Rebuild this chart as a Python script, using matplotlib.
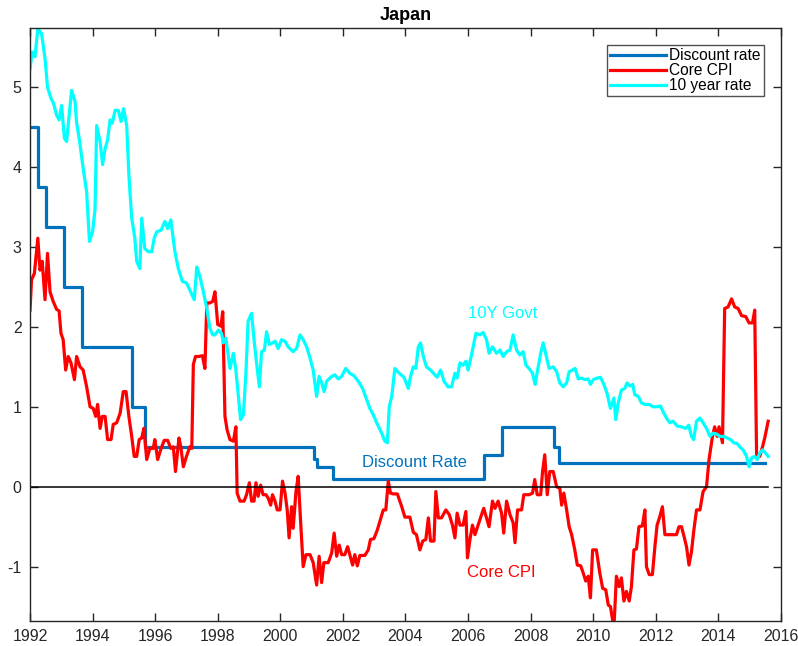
import numpy as np
import matplotlib
matplotlib.use("Agg")
import matplotlib.pyplot as plt

plt.rcParams['font.family'] = ['Liberation Sans', 'DejaVu Sans']
plt.rcParams['axes.unicode_minus'] = False

# discount rate: dates of each level change and the level that starts there
disc_dates = [1992.00, 1992.25, 1992.50, 1993.08, 1993.67, 1995.25, 1995.67,
              2001.08, 2001.17, 2001.67, 2006.50, 2007.08, 2008.75, 2008.92, 2015.50]
disc_values = [4.50, 3.75, 3.25, 2.50, 1.75, 1.00, 0.50,
               0.35, 0.25, 0.10, 0.40, 0.75, 0.50, 0.30, 0.30]

gov10_dates = [
    1992.00, 1992.07, 1992.16, 1992.25, 1992.37, 1992.48, 1992.56, 1992.67, 1992.75, 1992.85,
    1992.93, 1993.01, 1993.10, 1993.17, 1993.33, 1993.44, 1993.49, 1993.58, 1993.70, 1993.81,
    1993.90, 1994.00, 1994.08, 1994.13, 1994.24, 1994.32, 1994.40, 1994.48, 1994.56, 1994.63,
    1994.72, 1994.82, 1994.91, 1994.99, 1995.09, 1995.16, 1995.25, 1995.35, 1995.41, 1995.51,
    1995.57, 1995.67, 1995.78, 1995.89, 1995.97, 1996.05, 1996.19, 1996.31, 1996.40, 1996.50,
    1996.63, 1996.74, 1996.87, 1997.00, 1997.11, 1997.25, 1997.33, 1997.43, 1997.54, 1997.65,
    1997.75, 1997.84, 1997.91, 1998.02, 1998.12, 1998.18, 1998.26, 1998.39, 1998.50, 1998.58,
    1998.66, 1998.73, 1998.82, 1998.90, 1998.97, 1999.08, 1999.17, 1999.24, 1999.33, 1999.40,
    1999.49, 1999.56, 1999.65, 1999.75, 1999.83, 1999.93, 2000.04, 2000.15, 2000.25, 2000.41,
    2000.52, 2000.63, 2000.73, 2000.84, 2000.95, 2001.05, 2001.16, 2001.24, 2001.32, 2001.40,
    2001.48, 2001.64, 2001.74, 2001.85, 2001.96, 2002.09, 2002.22, 2002.35, 2002.49, 2002.63,
    2002.76, 2002.86, 2002.97, 2003.08, 2003.24, 2003.34, 2003.42, 2003.48, 2003.56, 2003.66,
    2003.80, 2003.95, 2004.09, 2004.16, 2004.25, 2004.33, 2004.41, 2004.48, 2004.57, 2004.67,
    2004.80, 2004.94, 2005.01, 2005.12, 2005.23, 2005.36, 2005.47, 2005.58, 2005.65, 2005.74,
    2005.84, 2005.93, 2006.00, 2006.11, 2006.25, 2006.38, 2006.48, 2006.59, 2006.67, 2006.78,
    2006.91, 2007.02, 2007.12, 2007.23, 2007.34, 2007.44, 2007.55, 2007.65, 2007.76, 2007.85,
    2007.95, 2008.06, 2008.14, 2008.24, 2008.32, 2008.40, 2008.49, 2008.59, 2008.72, 2008.83,
    2008.93, 2009.04, 2009.15, 2009.23, 2009.34, 2009.42, 2009.52, 2009.63, 2009.73, 2009.84,
    2009.91, 2010.00, 2010.13, 2010.23, 2010.34, 2010.44, 2010.55, 2010.66, 2010.72, 2010.80,
    2010.90, 2011.01, 2011.08, 2011.17, 2011.26, 2011.33, 2011.44, 2011.54, 2011.65, 2011.79,
    2011.91, 2012.02, 2012.15, 2012.23, 2012.34, 2012.45, 2012.55, 2012.68, 2012.82, 2012.96,
    2013.05, 2013.14, 2013.21, 2013.30, 2013.41, 2013.51, 2013.62, 2013.73, 2013.83, 2013.94,
    2014.05, 2014.15, 2014.28, 2014.39, 2014.49, 2014.60, 2014.68, 2014.79, 2014.90, 2014.98,
    2015.06, 2015.16, 2015.24, 2015.32, 2015.41, 2015.51, 2015.59]
gov10_values = [
    5.23, 5.44, 5.38, 5.73, 5.67, 5.36, 5.00, 4.86, 4.80, 4.65,
    4.59, 4.77, 4.36, 4.32, 4.96, 4.82, 4.55, 4.34, 3.98, 3.69,
    3.07, 3.19, 3.48, 4.52, 4.32, 4.03, 4.23, 4.34, 4.59, 4.55,
    4.71, 4.71, 4.57, 4.73, 4.52, 3.90, 3.36, 3.11, 2.82, 2.73,
    3.36, 2.98, 2.94, 2.94, 3.11, 3.19, 3.21, 3.32, 3.23, 3.34,
    2.94, 2.73, 2.57, 2.55, 2.46, 2.34, 2.75, 2.63, 2.44, 2.23,
    1.98, 1.90, 1.90, 1.96, 1.92, 1.80, 1.86, 1.48, 1.67, 1.46,
    1.13, 0.84, 0.90, 1.42, 2.07, 2.17, 1.80, 1.55, 1.25, 1.69,
    1.71, 1.94, 1.78, 1.80, 1.82, 1.73, 1.84, 1.82, 1.75, 1.69,
    1.73, 1.90, 1.84, 1.75, 1.61, 1.46, 1.13, 1.38, 1.30, 1.19,
    1.32, 1.38, 1.40, 1.35, 1.38, 1.48, 1.42, 1.39, 1.32, 1.23,
    1.09, 0.98, 0.90, 0.80, 0.67, 0.57, 0.55, 1.00, 1.13, 1.48,
    1.42, 1.37, 1.23, 1.38, 1.50, 1.48, 1.75, 1.80, 1.63, 1.50,
    1.46, 1.40, 1.37, 1.46, 1.32, 1.25, 1.25, 1.42, 1.36, 1.55,
    1.52, 1.57, 1.46, 1.65, 1.92, 1.90, 1.93, 1.84, 1.67, 1.75,
    1.67, 1.71, 1.63, 1.69, 1.71, 1.90, 1.71, 1.65, 1.69, 1.52,
    1.48, 1.42, 1.28, 1.50, 1.67, 1.80, 1.65, 1.48, 1.50, 1.44,
    1.30, 1.25, 1.30, 1.44, 1.46, 1.48, 1.35, 1.36, 1.34, 1.35,
    1.28, 1.34, 1.36, 1.37, 1.28, 1.17, 0.98, 1.11, 0.84, 1.05,
    1.21, 1.23, 1.30, 1.26, 1.28, 1.15, 1.13, 1.05, 1.03, 1.03,
    1.00, 1.00, 1.01, 0.94, 0.86, 0.80, 0.82, 0.76, 0.75, 0.73,
    0.77, 0.63, 0.59, 0.82, 0.86, 0.80, 0.73, 0.63, 0.67, 0.66,
    0.63, 0.63, 0.61, 0.59, 0.55, 0.54, 0.50, 0.46, 0.38, 0.25,
    0.36, 0.38, 0.34, 0.42, 0.46, 0.42, 0.38]

cpi_dates = [
    1992.00, 1992.05, 1992.14, 1992.25, 1992.32, 1992.39, 1992.48, 1992.56, 1992.64, 1992.74,
    1992.85, 1992.93, 1992.99, 1993.06, 1993.14, 1993.22, 1993.31, 1993.42, 1993.49, 1993.60,
    1993.70, 1993.81, 1993.92, 1994.02, 1994.10, 1994.16, 1994.24, 1994.31, 1994.40, 1994.48,
    1994.59, 1994.66, 1994.77, 1994.88, 1994.98, 1995.07, 1995.16, 1995.25, 1995.33, 1995.41,
    1995.49, 1995.57, 1995.64, 1995.73, 1995.83, 1995.94, 1995.99, 1996.08, 1996.19, 1996.29,
    1996.40, 1996.50, 1996.58, 1996.65, 1996.76, 1996.82, 1996.90, 1997.00, 1997.11, 1997.17,
    1997.22, 1997.29, 1997.40, 1997.51, 1997.59, 1997.65, 1997.75, 1997.84, 1997.91, 1998.00,
    1998.10, 1998.16, 1998.23, 1998.30, 1998.39, 1998.50, 1998.58, 1998.62, 1998.71, 1998.84,
    1998.92, 1999.01, 1999.08, 1999.16, 1999.22, 1999.29, 1999.37, 1999.45, 1999.54, 1999.61,
    1999.69, 1999.75, 1999.83, 1999.90, 1999.99, 2000.07, 2000.15, 2000.22, 2000.28, 2000.36,
    2000.41, 2000.50, 2000.57, 2000.65, 2000.73, 2000.82, 2000.95, 2001.05, 2001.16, 2001.24,
    2001.32, 2001.39, 2001.53, 2001.64, 2001.72, 2001.80, 2001.88, 2001.96, 2002.06, 2002.15,
    2002.22, 2002.31, 2002.38, 2002.46, 2002.54, 2002.70, 2002.81, 2002.88, 2002.99, 2003.10,
    2003.20, 2003.29, 2003.37, 2003.45, 2003.52, 2003.61, 2003.74, 2003.88, 2003.98, 2004.14,
    2004.25, 2004.35, 2004.46, 2004.55, 2004.65, 2004.73, 2004.80, 2004.91, 2004.97, 2005.05,
    2005.15, 2005.29, 2005.40, 2005.50, 2005.58, 2005.65, 2005.74, 2005.84, 2005.93, 2005.98,
    2006.06, 2006.14, 2006.22, 2006.32, 2006.43, 2006.50, 2006.59, 2006.67, 2006.78, 2006.86,
    2006.96, 2007.07, 2007.14, 2007.23, 2007.34, 2007.44, 2007.50, 2007.58, 2007.71, 2007.78,
    2007.95, 2008.06, 2008.13, 2008.21, 2008.32, 2008.38, 2008.45, 2008.53, 2008.61, 2008.72,
    2008.83, 2008.93, 2008.99, 2009.06, 2009.15, 2009.23, 2009.31, 2009.41, 2009.49, 2009.60,
    2009.68, 2009.76, 2009.84, 2009.91, 2009.98, 2010.10, 2010.21, 2010.30, 2010.40, 2010.48,
    2010.55, 2010.66, 2010.74, 2010.83, 2010.90, 2010.98, 2011.06, 2011.15, 2011.22, 2011.30,
    2011.38, 2011.46, 2011.57, 2011.65, 2011.70, 2011.79, 2011.89, 2011.97, 2012.04, 2012.13,
    2012.21, 2012.29, 2012.66, 2012.74, 2012.82, 2012.90, 2012.98, 2013.06, 2013.14, 2013.21,
    2013.30, 2013.41, 2013.51, 2013.62, 2013.70, 2013.81, 2013.88, 2013.96, 2014.02, 2014.13,
    2014.20, 2014.31, 2014.42, 2014.52, 2014.63, 2014.74, 2014.87, 2014.98, 2015.09, 2015.16,
    2015.22, 2015.32, 2015.41, 2015.48, 2015.59]
cpi_values = [
    2.21, 2.59, 2.67, 3.11, 2.71, 2.82, 2.34, 2.92, 2.44, 2.32,
    2.22, 2.20, 1.92, 1.84, 1.46, 1.63, 1.55, 1.34, 1.63, 1.50,
    1.46, 1.25, 1.00, 0.98, 0.88, 1.03, 0.73, 0.88, 0.88, 0.59,
    0.59, 0.78, 0.80, 0.92, 1.19, 1.19, 0.88, 0.63, 0.38, 0.38,
    0.59, 0.61, 0.73, 0.34, 0.48, 0.48, 0.59, 0.34, 0.48, 0.58,
    0.58, 0.48, 0.50, 0.19, 0.61, 0.50, 0.25, 0.38, 0.50, 0.48,
    1.53, 1.63, 1.63, 1.64, 1.48, 2.30, 2.30, 2.32, 2.44, 2.03,
    2.01, 2.19, 0.88, 0.71, 0.59, 0.57, 0.75, -0.08, -0.18, -0.18,
    -0.10, 0.05, -0.18, -0.18, 0.05, -0.12, 0.02, -0.10, -0.10, -0.14,
    -0.23, -0.10, -0.18, -0.29, -0.29, 0.07, -0.08, -0.29, -0.64, -0.25,
    -0.52, -0.06, 0.13, -0.45, -1.00, -0.85, -0.85, -0.95, -1.23, -0.87,
    -1.20, -0.95, -0.95, -0.83, -0.58, -0.87, -0.73, -0.85, -0.85, -0.75,
    -0.85, -0.98, -0.85, -0.99, -0.86, -0.86, -0.79, -0.66, -0.65, -0.54,
    -0.41, -0.29, -0.29, 0.07, -0.08, -0.09, -0.09, -0.25, -0.38, -0.38,
    -0.57, -0.60, -0.79, -0.68, -0.66, -0.39, -0.68, -0.68, -0.06, -0.39,
    -0.39, -0.29, -0.35, -0.48, -0.64, -0.33, -0.48, -0.48, -0.31, -0.89,
    -0.66, -0.48, -0.60, -0.48, -0.35, -0.27, -0.39, -0.50, -0.18, -0.27,
    -0.18, -0.33, -0.58, -0.18, -0.35, -0.45, -0.70, -0.29, -0.29, -0.10,
    -0.10, -0.08, 0.09, -0.10, -0.10, 0.19, 0.40, -0.10, 0.19, 0.19,
    0.00, -0.02, -0.23, -0.08, -0.29, -0.50, -0.60, -0.79, -0.98, -0.99,
    -1.08, -1.18, -1.12, -1.39, -0.79, -0.79, -1.08, -1.27, -1.29, -1.48,
    -1.50, -1.77, -1.12, -1.25, -1.14, -1.43, -1.31, -1.43, -1.25, -0.79,
    -0.78, -0.50, -0.49, -0.29, -1.00, -1.10, -1.10, -0.75, -0.48, -0.37,
    -0.25, -0.60, -0.60, -0.50, -0.50, -0.62, -0.75, -0.98, -0.81, -0.56,
    -0.29, -0.29, -0.06, 0.00, 0.34, 0.63, 0.75, 0.63, 0.75, 0.55,
    2.23, 2.25, 2.35, 2.25, 2.23, 2.14, 2.13, 2.05, 2.05, 2.21,
    0.38, 0.38, 0.50, 0.61, 0.82]

xticks = list(range(1992, 2017, 2))
yticks = [-1, 0, 1, 2, 3, 4, 5]

blue = '#0072BD'
dark = '#262626'

fig = plt.figure(figsize=(7.98, 6.46), dpi=100)
ax = fig.add_axes([30 / 798, 25 / 646, 751 / 798, 593 / 646])

ax.plot(disc_dates, disc_values, color=blue, lw=2.3, drawstyle='steps-post',
        label='Discount rate')
ax.plot(cpi_dates, cpi_values, color='red', lw=2.3, label='Core CPI')
ax.plot(gov10_dates, gov10_values, color='cyan', lw=2.3, label='10 year rate')
ax.plot(gov10_dates, np.zeros(len(gov10_dates)), color='black', lw=1.1)

ax.text(2006.0, 2.17, '10Y Govt', color='cyan', fontsize=12, va='center')
ax.text(2002.6, 0.3, 'Discount Rate', color=blue, fontsize=12, va='center')
ax.text(2005.95, -1.07, 'Core CPI', color='red', fontsize=12, va='center')

ax.set_xlim(1992, 2016)
ax.set_ylim(-1.68, 5.74)
ax.set_xticks(xticks)
ax.set_yticks(yticks)
ax.tick_params(direction='in', length=6, width=1, colors=dark, labelsize=11.5,
               top=True, right=True, pad=6)
for s in ax.spines.values():
    s.set_color(dark)
    s.set_linewidth(1)

ax.set_title('Japan', fontsize=13, fontweight='bold', pad=6)

leg = ax.legend(loc='upper right', bbox_to_anchor=(764 / 798, 1 - 45 / 646),
                bbox_transform=fig.transFigure, borderaxespad=0, fontsize=11.2,
                frameon=True, fancybox=False, handlelength=3.6, handletextpad=0.2,
                labelspacing=0.0, borderpad=0.2)
leg.get_frame().set_edgecolor(dark)
leg.get_frame().set_linewidth(1)

fig.savefig('out.png', dpi=100)
